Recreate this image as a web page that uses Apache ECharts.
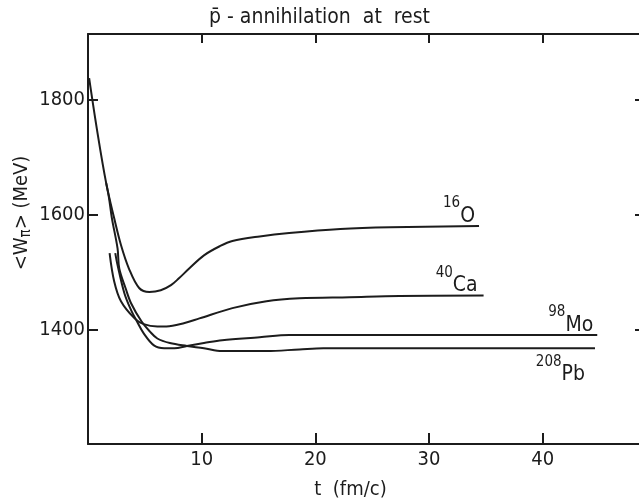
<!DOCTYPE html>
<html>
<head>
<meta charset="utf-8">
<script src="https://cdn.jsdelivr.net/npm/echarts@6/dist/echarts.min.js"></script>
<style>
  html, body { margin: 0; padding: 0; background: #fff; }
  #chart { width: 639px; height: 499px; }
</style>
</head>
<body>
<div id="chart"></div>
<script>
// values: t in fm/c, <W_pi> in MeV
const oxygenT = [0.1, 0.8, 1.6, 2.3, 2.9, 3.6, 4.5, 5.4, 6.4, 7.3, 8.0, 8.9, 10.2, 11.6, 12.7, 15.1, 17.7, 22.2, 26.6, 34.4];
const oxygenW = [1838, 1747, 1655, 1594, 1547, 1506, 1472, 1465, 1468, 1477, 1489, 1506, 1529, 1545, 1554, 1562, 1568, 1575, 1578, 1580];

const calciumT = [1.9, 2.3, 2.9, 4.1, 4.9, 6.1, 6.9, 8.5, 9.8, 12.7, 15.7, 18.6, 23.0, 27.4, 34.8];
const calciumW = [1533, 1484, 1449, 1419, 1409, 1405, 1405, 1411, 1419, 1437, 1449, 1454, 1456, 1458, 1459];

const molyT = [2.4, 2.6, 3.2, 3.8, 4.3, 4.9, 5.8, 6.7, 7.6, 8.7, 10.2, 11.8, 15.1, 17.7, 21.3, 27.4, 36.3, 44.8];
const molyW = [1533, 1512, 1463, 1433, 1414, 1393, 1372, 1367, 1367, 1371, 1376, 1381, 1386, 1390, 1390, 1390, 1390, 1390];

const leadT = [1.6, 1.85, 2.1, 2.6, 2.75, 3.3, 3.8, 4.7, 5.4, 6.1, 7.2, 8.7, 10.2, 11.8, 14.2, 15.7, 18.6, 20.7, 27.4, 44.6];
const leadW = [1655, 1629, 1594, 1541, 1506, 1472, 1445, 1414, 1397, 1384, 1376, 1371, 1367, 1362, 1362, 1362, 1365, 1367, 1367, 1367];

const xTicks = [10, 20, 30, 40];
const yTicks = [1400, 1600, 1800];

const ink = "#1c1c1c";
const font = "DejaVu Sans Condensed";

function pairs(ts, ws) {
  return ts.map((t, i) => [t, ws[i]]);
}

const labelRich = {
  a: { fontSize: 15, fontFamily: font, color: ink, verticalAlign: "top", padding: [0, 0, 10, 0] },
  b: { fontSize: 21, fontFamily: font, color: ink, padding: [10, 0, 0, 0] }
};

function curve(name, ts, ws, mass, symbol, above, dx) {
  return {
    name: name,
    type: "line",
    data: pairs(ts, ws),
    smooth: 0.35,
    symbol: "none",
    lineStyle: { color: ink, width: 2 },
    endLabel: {
      show: true,
      formatter: () => `{a|${mass}}{b|${symbol}}`,
      rich: labelRich,
      align: "right",
      verticalAlign: above ? "bottom" : "top",
      offset: [dx, above ? 1 : 6]
    }
  };
}

// all four sides of the frame carry inward ticks
function frameAxis(extra, tickLen) {
  return Object.assign({
    type: "value",
    axisLine: { show: true, onZero: false, lineStyle: { color: ink, width: 2 } },
    axisTick: { show: true, inside: true, length: tickLen, lineStyle: { color: ink, width: 2 } },
    splitLine: { show: false }
  }, extra);
}

const chart = echarts.init(document.getElementById("chart"));
chart.setOption({
  animation: false,
  backgroundColor: "#fff",
  title: {
    text: "p\u0304 - annihilation  at  rest",
    left: "center",
    top: 2,
    textStyle: { fontFamily: font, fontSize: 21, fontWeight: "normal", color: ink }
  },
  grid: { left: 88, top: 34, width: 557, height: 410, outerBoundsMode: "none" },
  xAxis: [
    frameAxis({
      min: 0,
      max: 49,
      interval: 10,
      name: "t  (fm/c)",
      nameLocation: "middle",
      nameGap: 36,
      nameTextStyle: { fontFamily: font, fontSize: 20, color: ink, padding: [0, 32, 0, 0] },
      axisLabel: {
        margin: 6, fontFamily: font, fontSize: 20, color: ink,
        formatter: (v) => (xTicks.includes(v) ? String(v) : "")
      }
    }, 11),
    frameAxis({
      position: "top",
      min: 0,
      max: 49,
      interval: 10,
      axisLabel: { show: false }
    }, 9)
  ],
  yAxis: [
    frameAxis({
      min: 1200,
      max: 1915,
      interval: 200,
      name: "<W{s|\u03c0}> (MeV)",
      nameLocation: "middle",
      nameGap: 54,
      nameMoveOverlap: false,
      nameTextStyle: {
        fontFamily: font,
        fontSize: 20,
        color: ink,
        padding: [0, 0, 0, 52],
        rich: { s: { fontFamily: font, fontSize: 15, color: ink, padding: [10, 0, 0, 0] } }
      },
      axisLabel: {
        margin: 3, fontFamily: font, fontSize: 20, color: ink,
        formatter: (v) => (yTicks.includes(v) ? String(v) : "")
      }
    }, 10),
    frameAxis({
      position: "right",
      min: 1200,
      max: 1915,
      interval: 200,
      axisLabel: { show: false }
    }, 10)
  ],
  series: [
    curve("16O", oxygenT, oxygenW, "16", "O", true, -12),
    curve("40Ca", calciumT, calciumW, "40", "Ca", true, -14),
    curve("98Mo", molyT, molyW, "98", "Mo", true, -12),
    curve("208Pb", leadT, leadW, "208", "Pb", false, -18)
  ]
});
</script>
</body>
</html>
